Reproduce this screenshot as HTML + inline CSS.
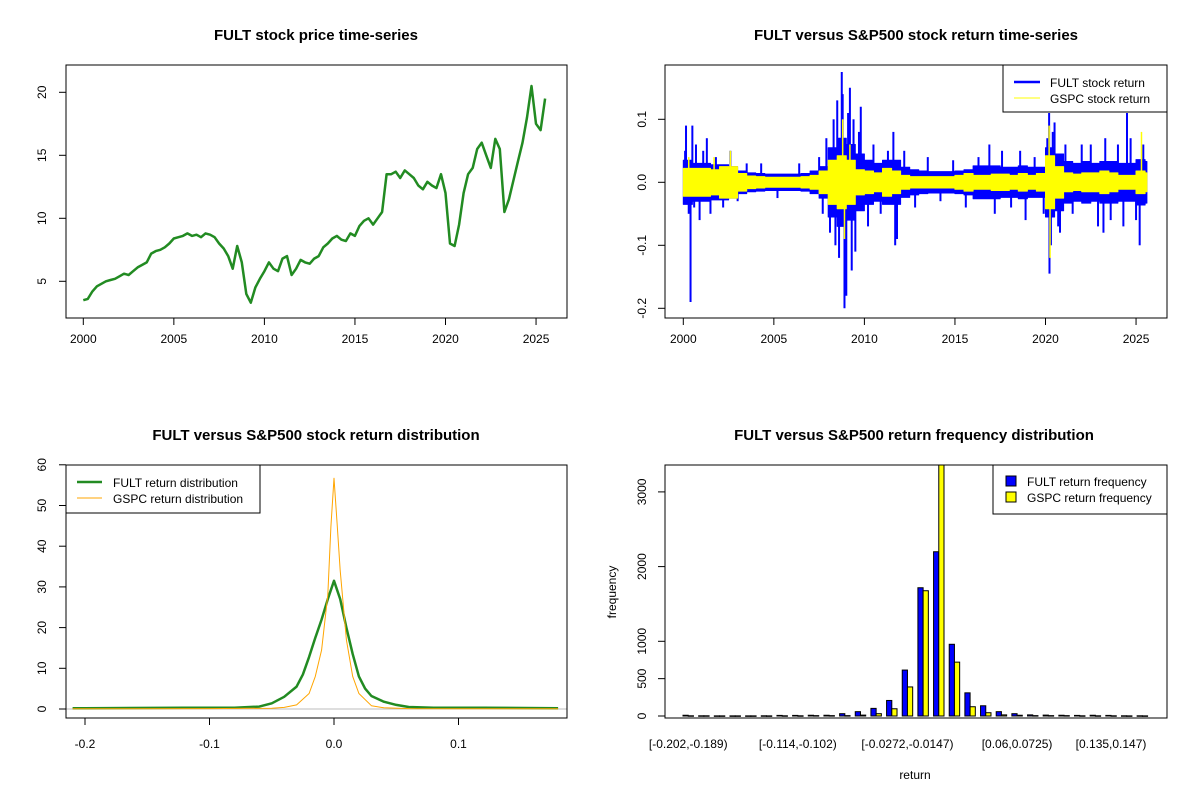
<!DOCTYPE html>
<html><head><meta charset="utf-8"><style>
html,body{margin:0;padding:0;background:#fff}
svg{display:block;font-family:"Liberation Sans",Arial,sans-serif}
.t{font-size:15px;font-weight:bold;text-anchor:middle}
.k{font-size:12px}
</style></head><body>
<svg id="c" width="1200" height="800" viewBox="0 0 1200 800"></svg>
<script>
// ---------- data ----------
const priceStartYear = 2000;
const priceQuarterly = [3.5,3.6,4.2,4.6, 4.8,5.0,5.1,5.2, 5.4,5.6,5.5,5.8, 6.1,6.3,6.5,7.2, 7.4,7.5,7.7,8.0,
 8.4,8.5,8.6,8.8, 8.6,8.7,8.5,8.8, 8.7,8.5,8.0,7.6, 7.0,6.0,7.8,6.5, 4.0,3.3,4.5,5.2, 5.8,6.5,6.0,5.8,
 6.8,7.0,5.5,6.0, 6.7,6.5,6.4,6.8, 7.0,7.7,8.0,8.4, 8.6,8.3,8.2,8.8, 8.6,9.4,9.8,10.0, 9.5,10.0,10.5,13.5,
 13.5,13.7,13.2,13.8, 13.5,13.2,12.6,12.3, 12.9,12.6,12.4,13.5, 12.0,8.0,7.8,9.5, 12.0,13.5,14.0,15.5,
 16.0,15.0,14.0,16.3, 15.5,10.5,11.5,13.0, 14.5,16.0,18.0,20.5, 17.5,17.0,19.5];
const priceTicksX = [2000,2005,2010,2015,2020,2025];
const priceTicksY = [5,10,15,20];

// semiannual return envelopes (2000.0 .. 2025.5)
const fultEnv = [0.035,0.03,0.03,0.028,0.028,0.025,0.018,0.015,0.014,0.013,0.013,0.013,0.013,0.014,0.018,0.025,
 0.055,0.07,0.06,0.045,0.035,0.03,0.035,0.035,0.024,0.02,0.018,0.017,0.017,0.017,0.018,0.02,0.026,0.026,0.026,0.024,
 0.024,0.026,0.024,0.024,0.055,0.045,0.033,0.03,0.033,0.03,0.033,0.033,0.03,0.03,0.036,0.033];
const gspcEnv = [0.022,0.022,0.022,0.02,0.025,0.025,0.014,0.01,0.009,0.008,0.008,0.008,0.008,0.009,0.011,0.018,
 0.035,0.042,0.035,0.02,0.018,0.015,0.022,0.018,0.011,0.009,0.009,0.009,0.009,0.009,0.011,0.014,0.011,0.011,0.013,0.013,
 0.011,0.014,0.011,0.014,0.042,0.025,0.015,0.013,0.015,0.015,0.018,0.015,0.011,0.011,0.018,0.015];
const fultSpikeT = [2000.1,2000.15,2000.3,2000.4,2000.5,2000.6,2000.7,2000.9,2001.1,2001.3,2001.5,2001.8,2002.2,2002.6,2003.0,2003.5,2004.3,2005.2,2006.4,2007.5,2007.7,2007.9,2008.1,2008.3,2008.4,2008.5,2008.6,2008.75,2008.8,2008.9,2009.0,2009.1,2009.2,2009.3,2009.4,2009.5,2009.7,2009.8,2010.2,2010.5,2010.9,2011.3,2011.6,2011.7,2011.8,2012.2,2012.8,2013.5,2014.2,2014.9,2015.6,2016.3,2016.9,2017.2,2017.6,2018.1,2018.6,2018.9,2019.4,2019.9,2020.1,2020.2,2020.22,2020.3,2020.4,2020.5,2020.7,2020.8,2021.1,2021.5,2022.0,2022.5,2022.9,2023.2,2023.3,2023.6,2024.0,2024.3,2024.5,2024.7,2025.0,2025.2,2025.4];
const fultSpikeV = [0.05,0.09,-0.05,-0.19,0.09,-0.04,0.06,-0.06,0.05,0.07,-0.05,0.04,-0.04,0.05,-0.03,0.03,0.03,-0.025,0.03,0.04,-0.05,0.07,-0.08,0.1,-0.1,0.13,-0.12,0.175,0.14,-0.2,-0.18,0.11,0.15,-0.14,0.1,-0.11,0.08,0.12,-0.07,0.06,-0.05,0.05,0.08,-0.1,-0.09,0.05,-0.04,0.04,-0.03,0.035,-0.04,0.04,0.06,-0.05,0.05,-0.04,0.05,-0.06,0.04,-0.05,0.07,0.11,-0.145,-0.1,0.08,0.095,-0.07,-0.08,0.06,-0.05,0.06,0.06,-0.07,-0.08,0.07,-0.06,0.06,-0.07,0.11,0.07,-0.06,-0.1,0.06];
const gspcSpikeT = [2000.3,2001.7,2002.6,2008.8,2008.9,2009.2,2020.2,2020.25,2025.3];
const gspcSpikeV = [0.04,0.04,0.05,0.1,-0.09,0.06,0.09,-0.12,0.08];
const retTicksY = [-0.2,-0.1,0.0,0.1];

// densities
const densX = [-0.21,-0.2,-0.12,-0.08,-0.06,-0.05,-0.04,-0.03,-0.025,-0.02,-0.015,-0.01,-0.005,0,0.005,0.01,0.015,0.02,0.025,0.03,0.04,0.05,0.06,0.08,0.12,0.18];
const fultDens = [0.2,0.2,0.3,0.3,0.6,1.4,3,5.5,8.5,12.8,17.5,22,27,31.5,27,20,13.5,8,5,3.2,1.8,1,0.5,0.3,0.3,0.2];
const gspcX = [-0.21,-0.1,-0.05,-0.04,-0.03,-0.02,-0.015,-0.01,-0.005,-0.0025,0,0.0025,0.005,0.01,0.015,0.02,0.03,0.04,0.06,0.1,0.18];
const gspcDens = [0.05,0.1,0.2,0.4,1,3.8,8,14.5,28,44.8,56.7,45.6,34,17,8,3.8,0.8,0.3,0.1,0.05,0.05];
const densTicksX = [-0.2,-0.1,0.0,0.1];
const densTicksY = [0,10,20,30,40,50,60];

// histogram
const fultFreq = [10,3,2,2,2,3,8,8,10,10,31,58,102,208,615,1717,2199,960,310,137,58,31,15,12,10,8,10,8,3,3];
const gspcFreq = [3,3,2,2,2,2,3,3,5,5,5,12,31,97,389,1677,3600,721,124,44,15,10,5,5,5,3,3,3,2,2];
const binLabels = ["[-0.202,-0.189)","[-0.114,-0.102)","[-0.0272,-0.0147)","[0.06,0.0725)","[0.135,0.147)"];
const binLabelIdx = [0,7,14,21,27];
const freqTicksY = [0,500,1000,2000,3000];

// ---------- drawing ----------
const svg = document.getElementById('c');
const NS = 'http://www.w3.org/2000/svg';
function mk(tag, attrs, parent){ const e=document.createElementNS(NS,tag); for(const k in attrs) e.setAttribute(k,attrs[k]); (parent||svg).appendChild(e); return e; }
function txt(s,x,y,cls,extra,parent){ const e=mk('text',Object.assign({x:x,y:y,class:cls},extra||{}),parent); e.textContent=s; return e; }

// ===== Panel 1: price =====
const p1 = mk('g',{});


const X1 = t => 83.3 + (t-2000)*18.11;
const Y1 = v => 344.3 - 12.6*v;
let d='';
priceQuarterly.forEach((v,i)=>{ const t=priceStartYear+i*0.25; d+=(i?'L':'M')+X1(t).toFixed(1)+','+Y1(v).toFixed(1); });
const pl = mk('path',{d:d,fill:'none',stroke:'#228B22','stroke-width':2.5,'stroke-linejoin':'round'},p1);


mk('rect',{x:66,y:65,width:501,height:253,fill:'none',stroke:'#000'},p1);
priceTicksX.forEach(t=>{ mk('line',{x1:X1(t),x2:X1(t),y1:318,y2:325,stroke:'#000'},p1); txt(String(t),X1(t),343,'k',{'text-anchor':'middle'},p1); });
priceTicksY.forEach(v=>{ mk('line',{x1:59,x2:66,y1:Y1(v),y2:Y1(v),stroke:'#000'},p1); txt(String(v),0,0,'k',{'text-anchor':'middle',transform:`translate(46,${Y1(v)}) rotate(-90)`},p1); });
const t1=txt('FULT stock price time-series',316,40,'t');



// ===== Panel 2: returns =====
const p2 = mk('g',{});


const X2 = t => 683.3 + (t-2000)*18.11;
const Y2 = v => 182.3 - 630*v;
function band(env,color,name){
  let up='',dn='';
  env.forEach((a,i)=>{ const t0=2000+i*0.5, t1=Math.min(t0+0.5,2025.6);
    up+=(i?'L':'M')+X2(t0).toFixed(1)+','+Y2(a).toFixed(1)+'L'+X2(t1).toFixed(1)+','+Y2(a).toFixed(1);
    dn='L'+X2(t1).toFixed(1)+','+Y2(-a).toFixed(1)+'L'+X2(t0).toFixed(1)+','+Y2(-a).toFixed(1)+dn; });
  const e=mk('path',{d:up+dn+'Z',fill:color,stroke:color,'stroke-width':1,'stroke-linejoin':'round'},p2);
  
  
}
function spikes(T,V,color,w,name){
  T.forEach((t,i)=>{ const e=mk('line',{x1:X2(t),x2:X2(t),y1:Y2(0),y2:Y2(V[i]),stroke:color,'stroke-width':w},p2);
    
     });
}
band(fultEnv,'#0000FF','fult-return-band');
spikes(fultSpikeT,fultSpikeV,'#0000FF',2,'fult-return-spike');
band(gspcEnv,'#FFFF00','gspc-return-band');
spikes(gspcSpikeT,gspcSpikeV,'#FFFF00',1.5,'gspc-return-spike');
mk('rect',{x:665,y:65,width:502,height:253,fill:'none',stroke:'#000'},p2);
priceTicksX.forEach(t=>{ mk('line',{x1:X2(t),x2:X2(t),y1:318,y2:325,stroke:'#000'},p2); txt(String(t),X2(t),343,'k',{'text-anchor':'middle'},p2); });
retTicksY.forEach(v=>{ mk('line',{x1:658,x2:665,y1:Y2(v),y2:Y2(v),stroke:'#000'},p2); txt(v===0?'0.0':String(v),0,0,'k',{'text-anchor':'middle',transform:`translate(646,${Y2(v)}) rotate(-90)`},p2); });
const lg2 = mk('g',{},p2);


mk('rect',{x:1003,y:65,width:164,height:47,fill:'#fff',stroke:'#000'},lg2);
mk('line',{x1:1014,x2:1040,y1:82,y2:82,stroke:'#0000FF','stroke-width':2.5},lg2);
mk('line',{x1:1014,x2:1040,y1:98,y2:98,stroke:'#FFFF00','stroke-width':1},lg2);
txt('FULT stock return',1050,87,'k',{},lg2);
txt('GSPC stock return',1050,103,'k',{},lg2);
const t2=txt('FULT versus S&P500 stock return time-series',916,40,'t');



// ===== Panel 3: density =====
const p3 = mk('g',{});


const X3 = x => 334 + 1245*x;
const Y3 = v => 709 - 4.07*v;
mk('line',{x1:66,x2:567,y1:Y3(0),y2:Y3(0),stroke:'#bebebe'},p3);
function curve(xs,ys,color,w,name){
  let dd=''; xs.forEach((x,i)=>{ dd+=(i?'L':'M')+X3(x).toFixed(1)+','+Y3(ys[i]).toFixed(1); });
  const e=mk('path',{d:dd,fill:'none',stroke:color,'stroke-width':w,'stroke-linejoin':'round'},p3);
  
  
}
curve(densX,fultDens,'#228B22',2.5,'fult-density-line');
curve(gspcX,gspcDens,'#FFA500',1,'gspc-density-line');
mk('rect',{x:66,y:465,width:501,height:253,fill:'none',stroke:'#000'},p3);
densTicksX.forEach(v=>{ mk('line',{x1:X3(v),x2:X3(v),y1:718,y2:725,stroke:'#000'},p3); txt(v===0?'0.0':String(v),X3(v),748,'k',{'text-anchor':'middle'},p3); });
densTicksY.forEach(v=>{ mk('line',{x1:59,x2:66,y1:Y3(v),y2:Y3(v),stroke:'#000'},p3); txt(String(v),0,0,'k',{'text-anchor':'middle',transform:`translate(46,${Y3(v)}) rotate(-90)`},p3); });
const lg3 = mk('g',{},p3);


mk('rect',{x:66,y:465,width:194,height:48,fill:'#fff',stroke:'#000'},lg3);
mk('line',{x1:77,x2:102,y1:482,y2:482,stroke:'#228B22','stroke-width':2.5},lg3);
mk('line',{x1:77,x2:102,y1:498,y2:498,stroke:'#FFA500','stroke-width':1},lg3);
txt('FULT return distribution',113,487,'k',{},lg3);
txt('GSPC return distribution',113,503,'k',{},lg3);
const t3=txt('FULT versus S&P500 stock return distribution',316,440,'t');



// ===== Panel 4: histogram =====
const p4 = mk('g',{});


const U = 5.22, G0 = 683;
const Y4 = v => 716 - 0.0747*v;
const clip = mk('clipPath',{id:'hc'},p4); mk('rect',{x:665,y:465,width:502,height:253},clip);
const bars = mk('g',{'clip-path':'url(#hc)'},p4);
fultFreq.forEach((v,i)=>{ const x=G0+i*3*U;
  const b=mk('rect',{x:x,y:Y4(v),width:U,height:Math.max(716-Y4(v),0.5),fill:'#0000FF',stroke:'#000','stroke-width':1},bars);
  
   });
gspcFreq.forEach((v,i)=>{ const x=G0+i*3*U+U;
  const b=mk('rect',{x:x,y:Y4(v),width:U,height:Math.max(716-Y4(v),0.5),fill:'#FFFF00',stroke:'#000','stroke-width':1},bars);
  
   });
mk('rect',{x:665,y:465,width:502,height:253,fill:'none',stroke:'#000'},p4);
freqTicksY.forEach(v=>{ mk('line',{x1:658,x2:665,y1:Y4(v),y2:Y4(v),stroke:'#000'},p4); txt(String(v),0,0,'k',{'text-anchor':'middle',transform:`translate(646,${Y4(v)}) rotate(-90)`},p4); });
binLabelIdx.forEach((g,i)=>{ txt(binLabels[i],G0+g*3*U+U,748,'k',{'text-anchor':'middle'},p4); });
txt('return',915,779,'k',{'text-anchor':'middle','font-size':'11px'},p4);
txt('frequency',0,0,'k',{'text-anchor':'middle','font-size':'11px',transform:'translate(616,592) rotate(-90)'},p4);
const lg4 = mk('g',{},p4);


mk('rect',{x:993,y:465,width:174,height:49,fill:'#fff',stroke:'#000'},lg4);
mk('rect',{x:1006,y:476,width:10,height:10,fill:'#0000FF',stroke:'#000'},lg4);
mk('rect',{x:1006,y:492,width:10,height:10,fill:'#FFFF00',stroke:'#000'},lg4);
txt('FULT return frequency',1027,486,'k',{},lg4);
txt('GSPC return frequency',1027,502,'k',{},lg4);
const t4=txt('FULT versus S&P500 return frequency distribution',914,440,'t');


</script>
</body></html>
